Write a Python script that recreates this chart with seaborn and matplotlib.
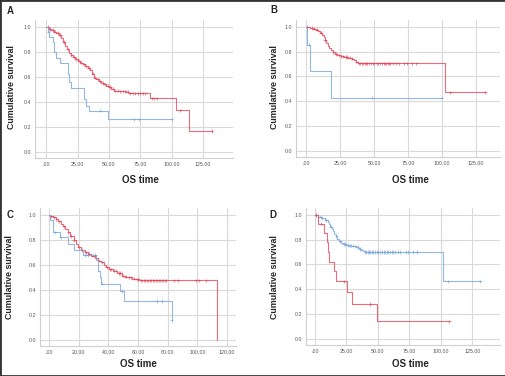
import numpy as np
import pandas as pd
import seaborn as sns
import matplotlib.pyplot as plt
from matplotlib.patches import Rectangle

sns.set_style("white")
plt.rcParams['font.family'] = ['Liberation Sans', 'DejaVu Sans']

RED = "#e8475a"
BLUE = "#7aa7dd"

# ---- Panel A ----
a_red_t = [0, 2, 4, 6, 8, 10, 12, 13.5, 15, 16.5, 18, 19.5, 21, 23, 25, 27, 29, 31, 33, 35,
           36.5, 38, 40, 42, 44, 46, 48, 50, 52, 54, 58, 64, 66, 83, 103.5, 113.5, 132]
a_red_s = [1.0, 0.985, 0.975, 0.962, 0.952, 0.935, 0.91, 0.88, 0.85, 0.82, 0.795, 0.775, 0.76,
           0.745, 0.73, 0.715, 0.70, 0.685, 0.67, 0.655, 0.625, 0.595, 0.58, 0.565, 0.55, 0.54,
           0.53, 0.52, 0.505, 0.49, 0.485, 0.478, 0.468, 0.428, 0.333, 0.167, 0.167]
a_red_cens = [1, 3, 5, 7, 9, 11, 14, 17, 20, 22, 24, 26, 28, 30, 32, 34, 37, 39, 41, 43, 45, 47,
              49, 51, 53, 55, 57, 59, 61, 63, 65, 67, 69, 71, 73, 75, 77, 79, 84, 86, 88, 107, 132]
a_blue_t = [0, 1, 2.5, 5.5, 6.5, 7.5, 11, 17, 18.5, 20, 30, 31.5, 34, 49, 100]
a_blue_s = [1.0, 0.96, 0.92, 0.88, 0.80, 0.75, 0.71, 0.62, 0.56, 0.51, 0.42, 0.37, 0.33, 0.26, 0.26]
a_blue_cens = [2, 43, 70, 74, 100]

# ---- Panel B ----
b_red_t = [0, 3, 5, 7, 9, 10.5, 12, 13, 14, 15, 16, 17, 18, 19.5, 21, 23, 25.5, 28, 31, 33.5,
           35, 36.5, 38, 102, 131.5]
b_red_s = [1.0, 0.99, 0.985, 0.978, 0.968, 0.955, 0.935, 0.915, 0.895, 0.87, 0.85, 0.83, 0.81,
           0.795, 0.78, 0.77, 0.762, 0.757, 0.752, 0.745, 0.735, 0.72, 0.707, 0.472, 0.472]
b_red_cens = [1, 4, 6, 8, 11, 14, 20, 22, 24, 26, 27, 29, 30, 32, 34, 37, 39, 40, 41, 42, 43, 44,
              45, 46, 48, 49, 50, 52, 53, 54, 56, 57, 58, 59, 60, 61, 62, 64, 66, 68, 72, 74,
              78, 81, 106, 131.5]
b_blue_t = [0, 0.7, 3, 18, 99.7]
b_blue_s = [1.0, 0.857, 0.643, 0.429, 0.429]
b_blue_cens = [2, 48.7, 99.7]

# ---- Panel C ----
c_red_t = [0, 1, 2.7, 4.5, 6, 8, 9.5, 11, 12.8, 14.5, 16.7, 18, 19.6, 21.5, 24, 26, 28.6, 31, 33,
           35.4, 37, 38.3, 40.5, 43.3, 46, 49, 51, 53.4, 56, 58, 61, 113.2]
c_red_s = [1.0, 0.99, 0.98, 0.965, 0.95, 0.93, 0.91, 0.885, 0.86, 0.83, 0.80, 0.77, 0.74, 0.72,
           0.70, 0.69, 0.675, 0.655, 0.635, 0.62, 0.60, 0.58, 0.565, 0.555, 0.535, 0.515, 0.505,
           0.50, 0.49, 0.483, 0.475, 0.0]
c_red_cens = [1.5, 3.5, 5, 7, 10, 13, 15, 17, 20, 22, 25, 27, 30, 32, 34, 36, 39, 41, 42, 44, 45,
              47, 48, 50, 52, 54, 55, 57, 59, 60, 62, 63, 64, 65, 66, 67, 68, 69, 70, 71, 72, 73,
              74, 75, 76, 77, 78, 79, 84, 87, 99, 101, 106]
c_blue_t = [0, 0.5, 2.7, 7.2, 12.9, 16.7, 23, 31.6, 33.1, 34.3, 35.4, 47.8, 50.5, 82.7]
c_blue_s = [1.0, 0.96, 0.86, 0.82, 0.77, 0.72, 0.68, 0.64, 0.55, 0.50, 0.45, 0.39, 0.31, 0.155]
c_blue_cens = [4, 8, 24, 26, 31, 36, 49.5, 72.6, 76, 82.7]

# ---- Panel D ----
d_blue_t = [0, 2.6, 5, 8, 10.6, 11.5, 12.4, 13.5, 14.6, 15.6, 16.7, 18, 19.3, 21, 22.5, 25, 27.8,
            31, 33, 34.5, 35.7, 37, 38, 39.7, 102, 131]
d_blue_s = [1.0, 0.985, 0.975, 0.96, 0.945, 0.93, 0.905, 0.885, 0.867, 0.847, 0.827, 0.805, 0.787,
            0.775, 0.765, 0.758, 0.752, 0.747, 0.742, 0.735, 0.725, 0.715, 0.707, 0.70, 0.465, 0.465]
d_blue_cens = [1, 4, 6, 9, 13, 17, 20, 23, 24, 26, 28, 29, 30, 32, 34, 36, 40, 41, 42, 43, 44,
               45, 46, 48, 49, 50, 52, 53, 55, 56, 57, 58, 60, 61, 62, 64, 66, 68, 72, 74,
               78, 81, 106, 131]
d_red_t = [0, 2.6, 7.2, 9.3, 10.3, 11.4, 15.1, 16.7, 25.2, 29.9, 49.5, 106.7]
d_red_s = [1.0, 0.93, 0.855, 0.78, 0.70, 0.62, 0.545, 0.465, 0.375, 0.28, 0.14, 0.14]
d_red_cens = [1.3, 5.3, 23, 44.2, 106.7]

ticks_25 = [0, 25, 50, 75, 100, 125]
labels_25 = [".00", "25.00", "50.00", "75.00", "100.00", "125.00"]
ticks_20 = [0, 20, 40, 60, 80, 100, 120]
labels_20 = [".00", "20.00", "40.00", "60.00", "80.00", "100.00", "120.00"]
y_ticks = [0.0, 0.2, 0.4, 0.6, 0.8, 1.0]
y_labels = ["0.0", "0.2", "0.4", "0.6", "0.8", "1.0"]

W, H = 506, 376
fig = plt.figure(figsize=(W / 100, H / 100), dpi=100)


def px_axes(left, right, top, bottom):
    return fig.add_axes([left / W, 1 - bottom / H, (right - left) / W, (bottom - top) / H])


def step_lookup(times, surv, t):
    idx = np.searchsorted(times, t, side="right") - 1
    return np.asarray(surv)[idx]


def km_panel(ax, curves, xlim, xticks, xlabels, ylab_xy, xlab_xy):
    frames, marks = [], []
    for name, t, s, cens, color in curves:
        frames.append(pd.DataFrame({"time": t, "surv": s, "group": name}))
        marks.append(pd.DataFrame({"time": cens, "surv": step_lookup(t, s, cens), "group": name}))
    df = pd.concat(frames, ignore_index=True)
    mk = pd.concat(marks, ignore_index=True)
    pal = {c[0]: c[4] for c in curves}
    sns.lineplot(data=df, x="time", y="surv", hue="group", palette=pal, ax=ax,
                 drawstyle="steps-post", estimator=None, sort=False, linewidth=0.8,
                 alpha=0.8, legend=False)
    sns.scatterplot(data=mk, x="time", y="surv", hue="group", palette=pal, ax=ax,
                    marker="+", s=6, linewidth=0.5, alpha=0.9, legend=False)
    ax.set_xlim(*xlim)
    ax.set_ylim(-0.05, 1.056)
    ax.set_xticks(xticks)
    ax.set_xticklabels(xlabels)
    ax.set_yticks(y_ticks)
    ax.set_yticklabels(y_labels)
    ax.grid(True, color="#d9d9d9", linewidth=0.8)
    ax.set_axisbelow(True)
    for sp in ["top", "right"]:
        ax.spines[sp].set_visible(False)
    for sp in ["left", "bottom"]:
        ax.spines[sp].set_color("#cfcfcf")
        ax.spines[sp].set_linewidth(0.8)
    ax.tick_params(length=0, labelsize=3.8, labelcolor="#555555", pad=3)
    ax.set_xlabel("OS time", fontsize=7, fontweight="bold", va="center")
    ax.set_ylabel("Cumulative survival", fontsize=6.4, fontweight="bold", va="center")
    ax.yaxis.set_label_coords(ylab_xy[0] / W, 1 - ylab_xy[1] / H, transform=fig.transFigure)
    ax.xaxis.set_label_coords(xlab_xy[0] / W, 1 - xlab_xy[1] / H, transform=fig.transFigure)


axA = px_axes(35, 233, 20, 158)
km_panel(axA, [("Low", a_red_t, a_red_s, a_red_cens, RED),
               ("High", a_blue_t, a_blue_s, a_blue_cens, BLUE)],
         (-9, 149), ticks_25, labels_25, (12, 87), (140, 180))

axB = px_axes(296, 500, 20, 157)
km_panel(axB, [("Low", b_red_t, b_red_s, b_red_cens, RED),
               ("High", b_blue_t, b_blue_s, b_blue_cens, BLUE)],
         (-7.4, 142.6), ticks_25, labels_25, (275, 87), (410, 180))

axC = px_axes(40, 236, 208, 346)
km_panel(axC, [("Low", c_red_t, c_red_s, c_red_cens, RED),
               ("High", c_blue_t, c_blue_s, c_blue_cens, BLUE)],
         (-6, 126), ticks_20, labels_20, (10, 277), (138, 364))

axD = px_axes(306, 500, 208, 345)
km_panel(axD, [("Low", d_blue_t, d_blue_s, d_blue_cens, BLUE),
               ("High", d_red_t, d_red_s, d_red_cens, RED)],
         (-7, 147), ticks_25, labels_25, (275, 277), (410, 364))

for txt, x, y in [("A", 10, 11), ("B", 274, 10), ("C", 10, 215), ("D", 273, 215)]:
    fig.text(x / W, 1 - y / H, txt, fontsize=7, fontweight="bold", ha="center", va="center")

fig.patches.append(Rectangle((0, 0), 1, 1, transform=fig.transFigure, fill=False,
                             edgecolor="#333333", linewidth=2))

fig.savefig("out.png", dpi=100)
